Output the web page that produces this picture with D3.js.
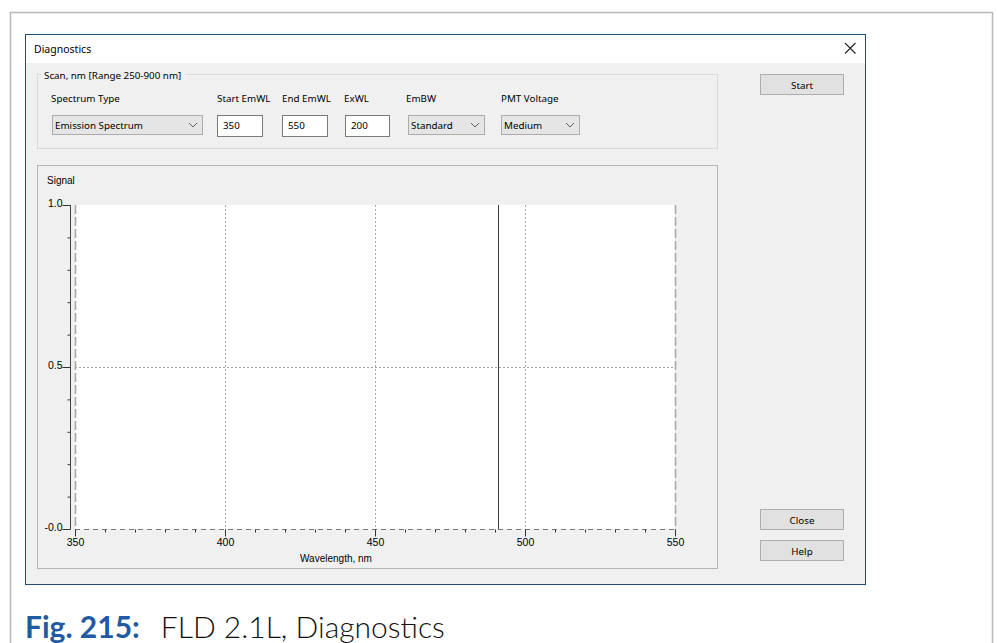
<!DOCTYPE html>
<html>
<head>
<meta charset="utf-8">
<script src="https://cdn.jsdelivr.net/npm/d3@7"></script>
<style>
    body { margin: 0; background: #fff; }
    svg { display: block; }
</style>
</head>
<body>
<div id="chart"></div>
<script>
// chart values
var xTicks = [350, 400, 450, 500, 550]
var yTicks = [0, 0.5, 1.0]
var yTickLabels = ["-0.0", "0.5", "1.0"]
var markerWavelength = [491]

// dialog texts
var fieldLabels = ["Spectrum Type", "Start EmWL", "End EmWL", "ExWL", "EmBW", "PMT Voltage"]
var fieldValues = ["Emission Spectrum", "350", "550", "200", "Standard", "Medium"]
var fieldKinds = ["combo", "text", "text", "text", "combo", "combo"]
var buttonLabels = ["Start", "Close", "Help"]

// layout (kept apart from the data)
var width = 998, height = 643
var labelX = [51, 217, 282, 344, 406, 501]
var boxes = [[52, 150], [217, 45], [282, 45], [345, 44], [408, 76], [501, 78]]
var buttonY = [74, 509, 540]
var uiFont = "'Noto Sans', sans-serif"
var uiSize = 9.8
var chartFont = "'Liberation Sans', Arial, sans-serif"

var svg = d3.select("#chart")
    .append("svg")
    .attr("width", width)
    .attr("height", height)

// outer page frame
svg.append("path")
    .attr("d", "M10.5,643 V12.5 H992.5 V643")
    .attr("fill", "none")
    .attr("stroke", "#b8b8b8")
    .attr("stroke-width", 1.5)

// dialog window
svg.append("rect")
    .attr("x", 25.5).attr("y", 34.5)
    .attr("width", 840).attr("height", 550)
    .attr("fill", "#f0f0f0")
    .attr("stroke", "#1f4d78")
svg.append("rect")
    .attr("x", 26).attr("y", 35)
    .attr("width", 839).attr("height", 28)
    .attr("fill", "#fff")
svg.append("text")
    .attr("x", 34).attr("y", 53)
    .attr("font-family", uiFont).attr("font-size", 10.5)
    .attr("fill", "#000")
    .text("Diagnostics")
svg.append("path")
    .attr("d", "M845,43 L855.5,53.5 M855.5,43 L845,53.5")
    .attr("stroke", "#222")
    .attr("stroke-width", 1.1)

// group box
svg.append("rect")
    .attr("x", 37.5).attr("y", 74.5)
    .attr("width", 680).attr("height", 74)
    .attr("fill", "none")
    .attr("stroke", "#dadada")
svg.append("rect")
    .attr("x", 41).attr("y", 68)
    .attr("width", 144).attr("height", 12)
    .attr("fill", "#f0f0f0")
svg.append("text")
    .attr("x", 44).attr("y", 79)
    .attr("font-family", uiFont).attr("font-size", uiSize)
    .attr("fill", "#000")
    .text("Scan, nm [Range 250-900 nm]")

svg.selectAll("fieldLabels")
    .data(fieldLabels)
    .enter()
    .append("text")
    .attr("x", function (d, i) { return labelX[i] })
    .attr("y", 102)
    .attr("font-family", uiFont).attr("font-size", uiSize)
    .attr("fill", "#000")
    .text(function (d) { return d })

var fields = svg.selectAll("fields")
    .data(fieldValues)
    .enter()
    .append("g")
    .attr("transform", function (d, i) { return "translate(" + boxes[i][0] + ",0)" })

fields.append("rect")
    .attr("x", 0.5)
    .attr("y", 115.5)
    .attr("width", function (d, i) { return boxes[i][1] })
    .attr("height", function (d, i) { return fieldKinds[i] == "combo" ? 19 : 21 })
    .attr("fill", function (d, i) { return fieldKinds[i] == "combo" ? "#e5e5e5" : "#fff" })
    .attr("stroke", function (d, i) { return fieldKinds[i] == "combo" ? "#acacac" : "#7a7a7a" })

fields.append("text")
    .attr("x", function (d, i) { return fieldKinds[i] == "combo" ? 3 : 6 })
    .attr("y", 129)
    .attr("font-family", uiFont).attr("font-size", uiSize)
    .attr("fill", "#000")
    .text(function (d) { return d })

fields.each(function (d, i) {
    if (fieldKinds[i] != "combo") return
    var cx = boxes[i][1] - 9
    d3.select(this).append("path")
        .attr("d", "M" + (cx - 4) + ",123 L" + cx + ",127 L" + (cx + 4) + ",123")
        .attr("fill", "none")
        .attr("stroke", "#606060")
})

// buttons
var buttons = svg.selectAll("buttons")
    .data(buttonLabels)
    .enter()
    .append("g")
    .attr("transform", function (d, i) { return "translate(760," + buttonY[i] + ")" })
buttons.append("rect")
    .attr("x", 0.5).attr("y", 0.5)
    .attr("width", 83).attr("height", 20)
    .attr("fill", "#e1e1e1")
    .attr("stroke", "#adadad")
buttons.append("text")
    .attr("x", 42).attr("y", 14.5)
    .attr("text-anchor", "middle")
    .attr("font-family", uiFont).attr("font-size", uiSize)
    .attr("fill", "#000")
    .text(function (d) { return d })

// chart panel
svg.append("rect")
    .attr("x", 37.5).attr("y", 165.5)
    .attr("width", 680).attr("height", 403)
    .attr("fill", "#f0f0f0")
    .attr("stroke", "#b4b4b4")
svg.append("text")
    .attr("x", 47).attr("y", 184)
    .attr("font-family", chartFont).attr("font-size", 10)
    .attr("fill", "#000")
    .text("Signal")

var x = d3.scaleLinear().domain([350, 550]).range([75, 675])
var y = d3.scaleLinear().domain([0, 1]).range([529, 205])

svg.append("rect")
    .attr("x", x(350)).attr("y", y(1))
    .attr("width", x(550) - x(350))
    .attr("height", y(0) - y(1))
    .attr("fill", "#fff")

// grid
svg.selectAll("vgrid")
    .data(xTicks.slice(1, -1))
    .enter()
    .append("line")
    .attr("x1", function (d) { return Math.round(x(d)) + 0.5 })
    .attr("x2", function (d) { return Math.round(x(d)) + 0.5 })
    .attr("y1", y(1)).attr("y2", y(0))
    .attr("stroke", "#a8a8a8")
    .attr("stroke-dasharray", "2,2")
svg.selectAll("hgrid")
    .data(yTicks.slice(1, -1))
    .enter()
    .append("line")
    .attr("x1", x(350)).attr("x2", x(550))
    .attr("y1", function (d) { return Math.round(y(d)) + 0.5 })
    .attr("y2", function (d) { return Math.round(y(d)) + 0.5 })
    .attr("stroke", "#a0a0a0")
    .attr("stroke-dasharray", "2,2")

// plot edges (long dashes)
svg.selectAll("edges")
    .data([350, 550])
    .enter()
    .append("line")
    .attr("x1", function (d) { return x(d) + 0.5 })
    .attr("x2", function (d) { return x(d) + 0.5 })
    .attr("y1", y(1)).attr("y2", y(0))
    .attr("stroke", "#a8a8a8")
    .attr("stroke-width", 1.6)
    .attr("stroke-dasharray", "9,3")
svg.append("line")
    .attr("x1", x(350)).attr("x2", x(550))
    .attr("y1", y(0) + 0.5).attr("y2", y(0) + 0.5)
    .attr("stroke", "#777")
    .attr("stroke-dasharray", "5,4")

// marker line
svg.selectAll("marker")
    .data(markerWavelength)
    .enter()
    .append("line")
    .attr("x1", function (d) { return Math.round(x(d)) + 0.5 })
    .attr("x2", function (d) { return Math.round(x(d)) + 0.5 })
    .attr("y1", y(1)).attr("y2", y(0))
    .attr("stroke", "#3a3a3a")

// x axis
var xMinor = svg.append("g")
    .attr("transform", "translate(0," + (y(0) + 0.5) + ")")
    .call(d3.axisBottom(x).tickValues(d3.range(350, 551, 10)).tickSize(3).tickFormat(""))
var xMajor = svg.append("g")
    .attr("transform", "translate(0," + (y(0) + 0.5) + ")")
    .call(d3.axisBottom(x).tickValues(xTicks).tickSize(7).tickPadding(2).tickFormat(d3.format("d")))
xMinor.select(".domain").remove()
xMajor.select(".domain").remove()
xMajor.selectAll("text")
    .attr("font-family", chartFont).attr("font-size", 10.5)
    .attr("fill", "#000")

svg.append("text")
    .attr("x", 336).attr("y", 562)
    .attr("text-anchor", "middle")
    .attr("font-family", chartFont).attr("font-size", 10)
    .attr("fill", "#000")
    .text("Wavelength, nm")

// y axis
var yMinor = svg.append("g")
    .attr("transform", "translate(70.5,0)")
    .call(d3.axisLeft(y).tickValues(d3.range(0, 1.001, 0.1)).tickSize(3).tickFormat(""))
var yMajor = svg.append("g")
    .attr("transform", "translate(70.5,0)")
    .call(d3.axisLeft(y).tickValues(yTicks).tickSize(8).tickPadding(0)
        .tickFormat(function (d, i) { return yTickLabels[i] }))
yMinor.select(".domain").remove()
yMajor.select(".domain")
    .attr("d", "M0," + y(1) + "V" + y(0))
    .attr("stroke", "#444")
svg.selectAll(".tick line").attr("stroke", "#333")
yMajor.selectAll("text")
    .attr("font-family", chartFont).attr("font-size", 10.5)
    .attr("fill", "#000")
    .attr("dy", "0.1em")

// caption
var caption = svg.append("text")
    .attr("x", 25).attr("y", 638)
    .attr("font-family", "Lato, 'Open Sans', sans-serif")
    .attr("font-size", 30)
caption.append("tspan")
    .attr("fill", "#1f5aa3")
    .attr("font-weight", "bold")
    .text("Fig. 215:")
caption.append("tspan")
    .attr("dx", 21)
    .attr("fill", "#111")
    .attr("font-weight", 300)
    .text("FLD 2.1L, Diagnostics")
</script>
</body>
</html>
